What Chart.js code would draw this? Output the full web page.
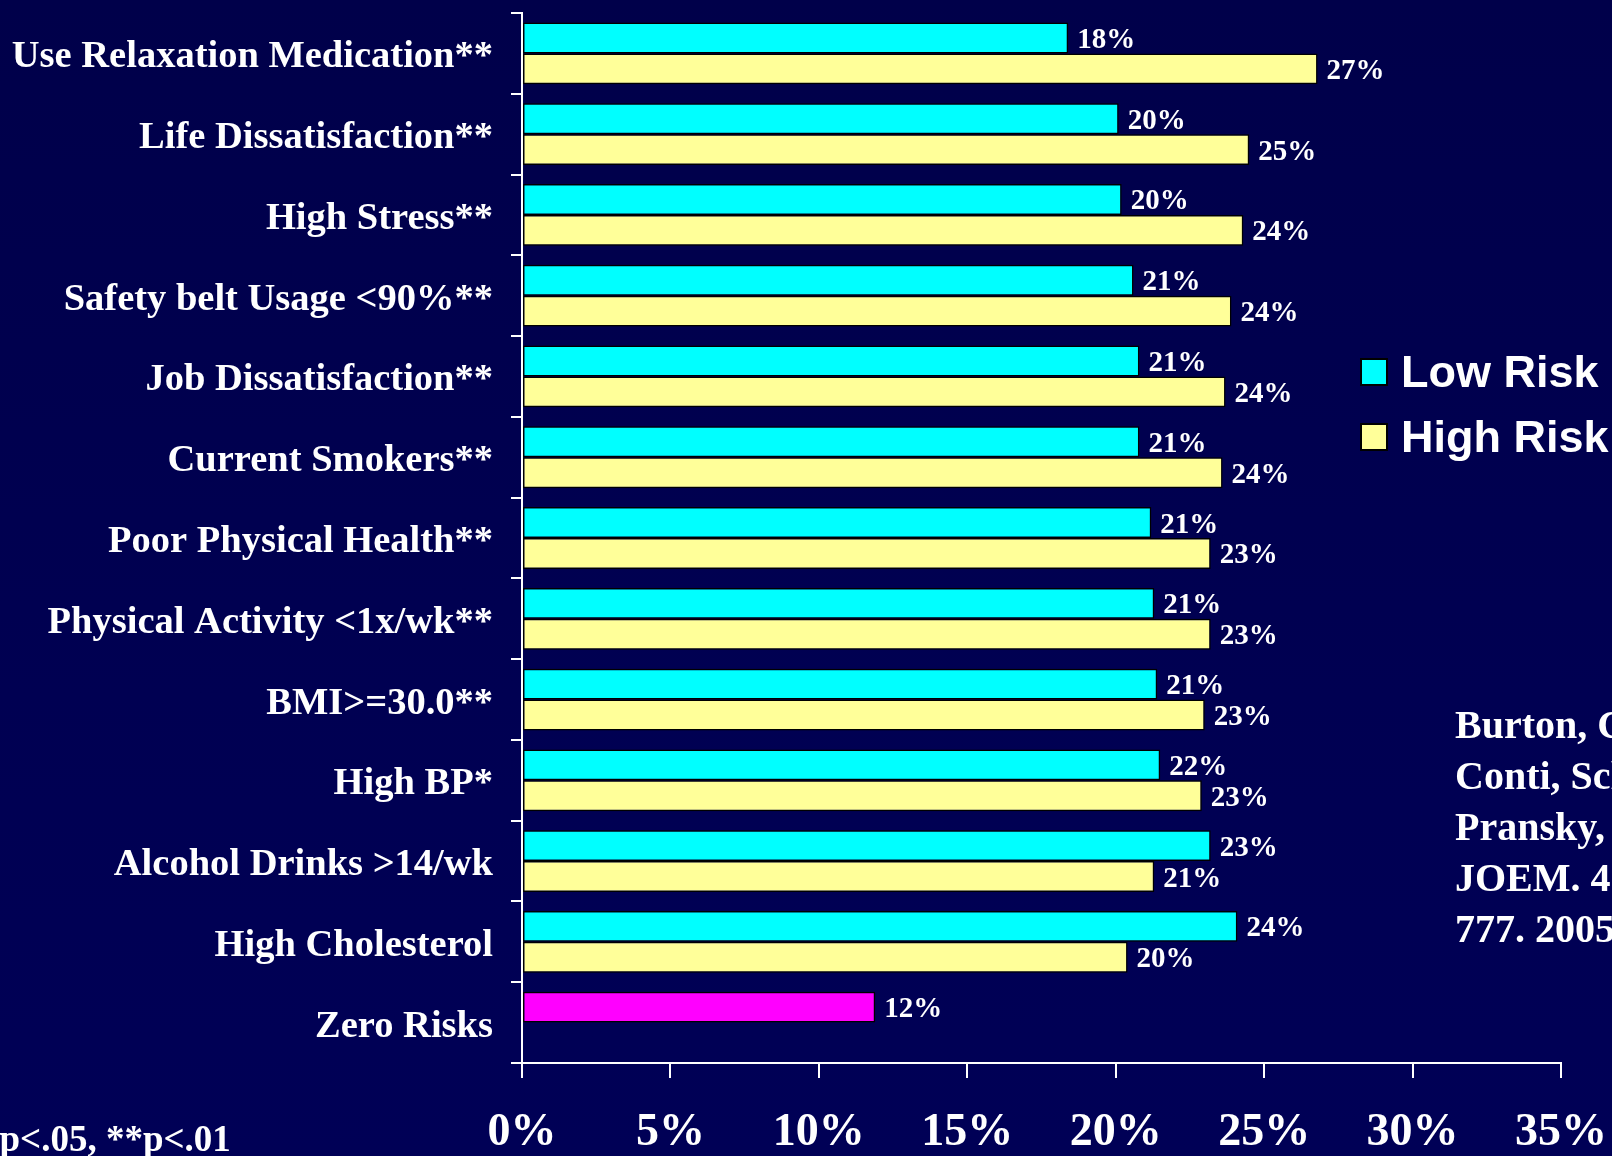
<!DOCTYPE html>
<html>
<head>
<meta charset="utf-8">
<title>Risk prevalence: Low Risk vs High Risk</title>
<script src="https://cdn.jsdelivr.net/npm/chart.js@4.4.1/dist/chart.umd.min.js"></script>
<style>
    html, body {
        margin: 0;
        padding: 0;
        overflow: hidden;
        background: linear-gradient(180deg, #00004a 0%, #000052 60%, #000056 100%);
    }
    #wrap {
        position: relative;
        width: 1612px;
        height: 1156px;
        overflow: hidden;
    }
    .note {
        position: absolute;
        color: #ffffff;
        font-family: "Liberation Serif", "Times New Roman", serif;
        font-weight: bold;
        white-space: nowrap;
    }
    #cite {
        left: 1455px;
        top: 699px;
        font-size: 40px;
        line-height: 51px;
    }
    #foot {
        left: -19px;
        top: 1120px;
        font-size: 37px;
        line-height: 37px;
    }
</style>
</head>
<body>
<div id="wrap">
    <canvas id="risk-canvas" width="1612" height="1156"></canvas>
    <div class="note" id="cite">Burton, Chen,<br>Conti, Schultz,<br>Pransky, Edington.<br>JOEM. 47(8):769-<br>777. 2005</div>
    <div class="note" id="foot">*p&lt;.05, **p&lt;.01</div>
</div>
<script>
// categories, top to bottom
const CATEGORIES = [
    'Use Relaxation Medication**',
    'Life Dissatisfaction**',
    'High Stress**',
    'Safety belt Usage <90%**',
    'Job Dissatisfaction**',
    'Current Smokers**',
    'Poor Physical Health**',
    'Physical Activity <1x/wk**',
    'BMI>=30.0**',
    'High BP*',
    'Alcohol Drinks >14/wk',
    'High Cholesterol',
    'Zero Risks'
];
// bar lengths (percent)
const LOW_RISK  = [18.4, 20.1, 20.2, 20.6, 20.8, 20.8, 21.2, 21.3, 21.4, 21.5, 23.2, 24.1, 11.9];
const HIGH_RISK = [26.8, 24.5, 24.3, 23.9, 23.7, 23.6, 23.2, 23.2, 23.0, 22.9, 21.3, 20.4, null];
// printed value labels
const LOW_LABELS  = ['18%', '20%', '20%', '21%', '21%', '21%', '21%', '21%', '21%', '22%', '23%', '24%', '12%'];
const HIGH_LABELS = ['27%', '25%', '24%', '24%', '24%', '24%', '23%', '23%', '23%', '23%', '21%', '20%', ''];
const X_MAX = 35;
const X_STEP = 5;

const CYAN = '#00ffff';
const YELLOW = '#ffff99';
const MAGENTA = '#ff00ff';
const SERIF = '"Liberation Serif", "Times New Roman", serif';
const SANS = '"Liberation Sans", Arial, sans-serif';

// "Zero Risks" sits in the Low Risk slot but is drawn magenta
const lowColors = CATEGORIES.map((c, i) => i === CATEGORIES.length - 1 ? MAGENTA : CYAN);

const valueLabels = {
    id: 'valueLabels',
    afterDatasetsDraw(chart) {
        const ctx = chart.ctx;
        const labelSets = [LOW_LABELS, HIGH_LABELS];
        ctx.save();
        ctx.fillStyle = '#ffffff';
        ctx.font = 'bold 29px ' + SERIF;
        ctx.textAlign = 'left';
        ctx.textBaseline = 'alphabetic';
        chart.data.datasets.forEach((ds, di) => {
            const meta = chart.getDatasetMeta(di);
            meta.data.forEach((bar, i) => {
                const txt = labelSets[di][i];
                if (!txt || ds.data[i] == null) return;
                ctx.fillText(txt, bar.x + 9, bar.y + 10);
            });
        });
        ctx.restore();
    }
};

// category names, drawn a touch below the tick centre like the original slide
const categoryLabels = {
    id: 'categoryLabels',
    afterDraw(chart) {
        const ctx = chart.ctx;
        const yScale = chart.scales.y;
        ctx.save();
        ctx.fillStyle = '#ffffff';
        ctx.font = 'bold 38.5px ' + SERIF;
        ctx.textAlign = 'right';
        ctx.textBaseline = 'alphabetic';
        yScale.ticks.forEach((t, i) => {
            const y = yScale.getPixelForTick(i);
            ctx.fillText(yScale.getLabelForValue(t.value), yScale.right - 29, y + 14);
        });
        ctx.restore();
    }
};

const sideLegend = {
    id: 'sideLegend',
    afterDraw(chart) {
        const ctx = chart.ctx;
        const x = 1361, size = 26;
        ctx.save();
        ctx.font = 'bold 45px ' + SANS;
        ctx.textBaseline = 'alphabetic';
        chart.data.datasets.forEach((ds, i) => {
            const top = 359 + i * 65;
            ctx.fillStyle = i === 0 ? CYAN : YELLOW;
            ctx.fillRect(x, top, size, size);
            ctx.lineWidth = 2;
            ctx.strokeStyle = '#000000';
            ctx.strokeRect(x, top, size, size);
            ctx.fillStyle = '#ffffff';
            ctx.fillText(ds.label, x + 40, top + 28);
        });
        ctx.restore();
    }
};

new Chart(document.getElementById('risk-canvas'), {
    type: 'bar',
    data: {
        labels: CATEGORIES,
        datasets: [
            {
                label: 'Low Risk',
                data: LOW_RISK,
                backgroundColor: lowColors,
                borderColor: '#000000',
                borderWidth: 1.5,
                borderSkipped: false,
                categoryPercentage: 0.765,
                barPercentage: 1.0
            },
            {
                label: 'High Risk',
                data: HIGH_RISK,
                backgroundColor: YELLOW,
                borderColor: '#000000',
                borderWidth: 1.5,
                borderSkipped: false,
                categoryPercentage: 0.765,
                barPercentage: 1.0
            }
        ]
    },
    options: {
        indexAxis: 'y',
        responsive: false,
        animation: false,
        layout: { padding: { top: 13, right: 51, left: 0, bottom: 0 } },
        plugins: {
            legend: { display: false },
            tooltip: { enabled: false }
        },
        scales: {
            x: {
                min: 0,
                max: X_MAX,
                afterFit: s => { s.height = 93; s.paddingLeft = 0; s.paddingRight = 0; },
                border: { color: '#ffffff', width: 2 },
                grid: { drawOnChartArea: false, color: '#ffffff', lineWidth: 2, tickLength: 15 },
                ticks: {
                    stepSize: X_STEP,
                    color: '#ffffff',
                    padding: 28,
                    maxRotation: 0,
                    font: { family: SERIF, size: 46, weight: 'bold' },
                    callback: v => v + '%'
                }
            },
            y: {
                afterFit: s => { s.width = 522; s.paddingTop = 0; s.paddingBottom = 0; },
                border: { color: '#ffffff', width: 2 },
                grid: { offset: true, drawOnChartArea: false, color: '#ffffff', lineWidth: 2, tickLength: 11 },
                ticks: { display: false, autoSkip: false }
            }
        }
    },
    plugins: [valueLabels, categoryLabels, sideLegend]
});
</script>
</body>
</html>
